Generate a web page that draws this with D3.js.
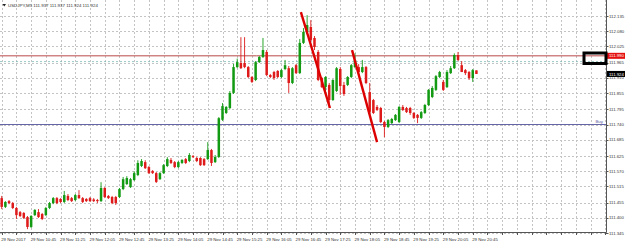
<!DOCTYPE html>
<html>
<head>
<meta charset="utf-8">
<script src="https://cdn.jsdelivr.net/npm/d3@7"></script>
<style>
  html, body { margin: 0; padding: 0; background: #fff; }
  svg { display: block; font-family: "Liberation Sans", Arial, sans-serif; }
</style>
</head>
<body>
<svg id="chart" width="625" height="244"></svg>
<script>
// USDJPY M5, 29 Nov 2017, 10:05 .. 20:50
const title = 'USDJPY,M5  111.937 111.937 111.924 111.924'

const timeLabels = [
  '29 Nov 2017', '29 Nov 10:45', '29 Nov 11:25', '29 Nov 12:05', '29 Nov 12:45',
  '29 Nov 13:25', '29 Nov 14:05', '29 Nov 14:45', '29 Nov 15:25', '29 Nov 16:05',
  '29 Nov 16:45', '29 Nov 17:25', '29 Nov 18:05', '29 Nov 18:45', '29 Nov 19:25',
  '29 Nov 20:05', '29 Nov 20:45'
]

const priceTicks = [112.135, 112.080, 112.025, 111.965, 111.910, 111.855, 111.795,
  111.740, 111.685, 111.625, 111.570, 111.515, 111.455, 111.400, 111.345]

const opens = [
  111.472, 111.440, 111.461, 111.454, 111.436, 111.421, 111.418, 111.403, 111.367, 111.410,
  111.421, 111.414, 111.410, 111.436, 111.454, 111.472, 111.469, 111.458, 111.480, 111.472,
  111.465, 111.483, 111.472, 111.469, 111.472, 111.467, 111.465, 111.461, 111.509, 111.480,
  111.476, 111.476, 111.476, 111.505, 111.523, 111.512, 111.538, 111.556, 111.589, 111.603,
  111.585, 111.571, 111.563, 111.541, 111.563, 111.589, 111.611, 111.603, 111.585, 111.600,
  111.614, 111.607, 111.625, 111.618, 111.618, 111.614, 111.614, 111.647, 111.603, 111.622,
  111.757, 111.782, 111.800, 111.855, 111.949, 111.964, 111.964, 111.949, 111.913, 111.902,
  111.967, 111.986, 112.004, 111.920, 111.931, 111.935, 111.913, 111.942, 111.945, 111.891,
  111.956, 111.927, 112.037, 112.077, 112.095, 112.055, 112.004, 111.909, 111.876, 111.884,
  111.829, 111.862, 111.942, 111.884, 111.884, 111.913, 111.949, 111.949, 111.931, 111.949,
  111.858, 111.829, 111.804, 111.800, 111.749, 111.731, 111.745, 111.756, 111.749, 111.804,
  111.800, 111.800, 111.782, 111.775, 111.764, 111.782, 111.811, 111.840, 111.866, 111.913,
  111.895, 111.876, 111.927, 111.945, 111.993, 111.956, 111.938, 111.931, 111.909, 111.937
]
const highs = [
  111.480, 111.461, 111.465, 111.458, 111.440, 111.425, 111.421, 111.407, 111.410, 111.432,
  111.432, 111.418, 111.440, 111.458, 111.476, 111.476, 111.472, 111.498, 111.487, 111.476,
  111.487, 111.501, 111.476, 111.472, 111.476, 111.472, 111.469, 111.530, 111.512, 111.483,
  111.480, 111.480, 111.509, 111.549, 111.552, 111.545, 111.570, 111.610, 111.614, 111.610,
  111.589, 111.574, 111.567, 111.567, 111.596, 111.621, 111.618, 111.607, 111.607, 111.614,
  111.618, 111.636, 111.629, 111.622, 111.621, 111.618, 111.676, 111.651, 111.629, 111.767,
  111.818, 111.807, 111.862, 111.961, 111.980, 112.058, 112.058, 111.953, 111.916, 111.971,
  111.989, 112.055, 112.011, 111.924, 111.935, 111.938, 111.942, 111.975, 111.953, 111.949,
  111.960, 112.051, 112.091, 112.138, 112.120, 112.062, 112.011, 111.913, 111.916, 111.891,
  111.905, 111.949, 111.949, 111.895, 111.916, 111.960, 111.999, 111.960, 111.975, 111.953,
  111.891, 111.833, 111.811, 111.804, 111.753, 111.760, 111.764, 111.778, 111.807, 111.811,
  111.804, 111.804, 111.785, 111.778, 111.789, 111.815, 111.869, 111.880, 111.920, 111.935,
  111.902, 111.938, 111.953, 111.999, 112.004, 111.971, 111.942, 111.935, 111.942, 111.937
]
const lows = [
  111.432, 111.436, 111.450, 111.432, 111.396, 111.403, 111.396, 111.359, 111.363, 111.407,
  111.400, 111.392, 111.407, 111.432, 111.450, 111.450, 111.454, 111.454, 111.461, 111.458,
  111.461, 111.469, 111.454, 111.458, 111.458, 111.458, 111.454, 111.458, 111.472, 111.469,
  111.450, 111.447, 111.472, 111.501, 111.520, 111.509, 111.534, 111.552, 111.585, 111.578,
  111.560, 111.560, 111.527, 111.538, 111.560, 111.585, 111.596, 111.581, 111.581, 111.596,
  111.596, 111.603, 111.618, 111.603, 111.589, 111.589, 111.611, 111.589, 111.600, 111.618,
  111.753, 111.778, 111.796, 111.851, 111.945, 111.942, 111.945, 111.909, 111.891, 111.898,
  111.964, 111.982, 111.916, 111.909, 111.902, 111.909, 111.909, 111.938, 111.855, 111.887,
  111.924, 111.924, 112.033, 112.069, 112.044, 112.011, 111.898, 111.873, 111.862, 111.800,
  111.826, 111.858, 111.848, 111.844, 111.880, 111.909, 111.945, 111.927, 111.927, 111.887,
  111.782, 111.778, 111.789, 111.745, 111.694, 111.727, 111.742, 111.753, 111.745, 111.789,
  111.782, 111.775, 111.760, 111.745, 111.760, 111.778, 111.807, 111.836, 111.862, 111.909,
  111.862, 111.873, 111.924, 111.942, 111.971, 111.931, 111.920, 111.902, 111.895, 111.924
]
const closes = [
  111.440, 111.458, 111.454, 111.436, 111.410, 111.407, 111.400, 111.367, 111.407, 111.429,
  111.403, 111.396, 111.436, 111.454, 111.472, 111.454, 111.458, 111.483, 111.465, 111.461,
  111.483, 111.472, 111.458, 111.461, 111.461, 111.461, 111.461, 111.509, 111.476, 111.472,
  111.454, 111.454, 111.505, 111.541, 111.545, 111.541, 111.563, 111.600, 111.607, 111.581,
  111.563, 111.563, 111.531, 111.563, 111.592, 111.614, 111.600, 111.585, 111.603, 111.611,
  111.600, 111.629, 111.622, 111.607, 111.592, 111.592, 111.647, 111.600, 111.622, 111.763,
  111.807, 111.804, 111.855, 111.949, 111.967, 111.945, 111.949, 111.913, 111.895, 111.967,
  111.986, 112.011, 111.920, 111.913, 111.909, 111.913, 111.938, 111.956, 111.891, 111.945,
  111.927, 112.037, 112.077, 112.102, 112.048, 112.022, 111.902, 111.876, 111.913, 111.829,
  111.902, 111.945, 111.880, 111.851, 111.913, 111.956, 111.975, 111.931, 111.949, 111.891,
  111.786, 111.782, 111.793, 111.749, 111.731, 111.756, 111.760, 111.775, 111.804, 111.793,
  111.785, 111.782, 111.764, 111.764, 111.785, 111.811, 111.866, 111.873, 111.916, 111.931,
  111.866, 111.931, 111.945, 111.993, 111.975, 111.931, 111.927, 111.909, 111.938, 111.924
]

// horizontal objects on the chart
const resistanceLevel = 111.990
const askLevel = 111.969
const buyLevel = 111.740
const bidPrice = 111.924

// trend lines: [bar index, price]
const trendA = [[81.3, 112.149], [89.2, 111.800]]
const trendB = [[95.2, 112.011], [102.0, 111.676]]

const width = 625
const height = 244
const plotRight = 606
const plotBottom = 232
const barStep = 3.68

const svg = d3.select('#chart')

const x = d3.scaleLinear()
  .domain([0, opens.length - 1])
  .range([1.7, 1.7 + (opens.length - 1) * barStep])

const y = d3.scaleLinear()
  .domain([111.345, 112.135])
  .range([233, 16])

const lastGridBar = Math.floor(x.invert(plotRight))
const gridBars = d3.range(0, lastGridBar + 1, 4)

// grid
const grid = svg.append('g').attr('stroke', '#c4c4c4').attr('stroke-dasharray', '2,2')
grid.selectAll('.vgrid').data(gridBars).enter()
  .append('line')
    .attr('x1', d => Math.round(x(d)) + 0.5)
    .attr('x2', d => Math.round(x(d)) + 0.5)
    .attr('y1', 0)
    .attr('y2', plotBottom)
grid.selectAll('.hgrid').data(priceTicks).enter()
  .append('line')
    .attr('x1', 0)
    .attr('x2', plotRight)
    .attr('y1', d => Math.round(y(d)) + 0.5)
    .attr('y2', d => Math.round(y(d)) + 0.5)

// level lines
svg.append('line')
  .attr('x1', 0).attr('x2', plotRight)
  .attr('y1', y(resistanceLevel)).attr('y2', y(resistanceLevel))
  .attr('stroke', '#b84a4a').attr('stroke-width', 1)
svg.append('line')
  .attr('x1', 0).attr('x2', plotRight)
  .attr('y1', y(askLevel)).attr('y2', y(askLevel))
  .attr('stroke', '#7fb8b8').attr('stroke-width', 0.8).attr('stroke-dasharray', '2,2')
svg.append('line')
  .attr('x1', 0).attr('x2', plotRight)
  .attr('y1', y(buyLevel)).attr('y2', y(buyLevel))
  .attr('stroke', '#6464a6').attr('stroke-width', 1)
svg.append('text')
  .attr('x', plotRight - 3).attr('y', y(buyLevel) - 1.5)
  .attr('text-anchor', 'end')
  .attr('font-size', 4.4)
  .attr('fill', '#5a5aa0')
  .text('Buy')

// candles
const bull = '#139a13'
const bear = '#de1a1a'
const bars = d3.range(opens.length).map(i => ({ i, o: opens[i], h: highs[i], l: lows[i], c: closes[i] }))

const candles = svg.append('g').selectAll('.candle').data(bars).enter()
  .append('g')

candles.append('line')
  .attr('x1', d => x(d.i))
  .attr('x2', d => x(d.i))
  .attr('y1', d => y(d.h))
  .attr('y2', d => y(d.l))
  .attr('stroke', d => d.c >= d.o ? bull : bear)
  .attr('stroke-width', 0.9)

candles.append('rect')
  .attr('x', d => x(d.i) - 1.25)
  .attr('width', 2.5)
  .attr('y', d => y(Math.max(d.o, d.c)))
  .attr('height', d => Math.max(1, y(Math.min(d.o, d.c)) - y(Math.max(d.o, d.c))))
  .attr('fill', d => d.c >= d.o ? bull : bear)

// trend lines
const trendLine = d3.line().x(d => x(d[0])).y(d => y(d[1]))
svg.selectAll('.trend').data([trendA, trendB]).enter()
  .append('path')
    .attr('d', trendLine)
    .attr('fill', 'none')
    .attr('stroke', '#dc0000')
    .attr('stroke-width', 2.4)

// frame
svg.append('line')
  .attr('x1', plotRight + 0.5).attr('x2', plotRight + 0.5)
  .attr('y1', 0).attr('y2', plotBottom + 0.5)
  .attr('stroke', '#555')
svg.append('line')
  .attr('x1', 0).attr('x2', plotRight + 0.5)
  .attr('y1', plotBottom + 0.5).attr('y2', plotBottom + 0.5)
  .attr('stroke', '#555')

// price axis
const yAxis = svg.append('g')
yAxis.selectAll('.ytick').data(priceTicks).enter()
  .append('line')
    .attr('x1', plotRight).attr('x2', plotRight + 2.5)
    .attr('y1', d => Math.round(y(d)) + 0.5)
    .attr('y2', d => Math.round(y(d)) + 0.5)
    .attr('stroke', '#555')
yAxis.selectAll('.ylabel').data(priceTicks).enter()
  .append('text')
    .attr('x', 609)
    .attr('y', d => y(d) + 1.6)
    .attr('font-size', 4.3)
    .attr('fill', '#333')
    .text(d => d.toFixed(3))

// time axis
svg.append('g').selectAll('.xtick').data(gridBars).enter()
  .append('line')
    .attr('x1', d => Math.round(x(d)) + 0.5)
    .attr('x2', d => Math.round(x(d)) + 0.5)
    .attr('y1', plotBottom)
    .attr('y2', plotBottom + 3)
    .attr('stroke', '#555')
svg.append('g').selectAll('.xlabel').data(timeLabels).enter()
  .append('text')
    .attr('x', (d, k) => x(k * 8) - 0.5)
    .attr('y', 240.5)
    .attr('font-size', 4.3)
    .attr('fill', '#333')
    .text(d => d)

// price marker labels
const markers = [
  { price: resistanceLevel, fill: '#e41010' },
  { price: bidPrice, fill: '#000' }
]
const mk = svg.append('g').selectAll('.marker').data(markers).enter().append('g')
mk.append('rect')
  .attr('x', plotRight + 1)
  .attr('y', d => y(d.price) - 3)
  .attr('width', width - plotRight - 1)
  .attr('height', 6)
  .attr('fill', d => d.fill)
mk.append('text')
  .attr('x', 609)
  .attr('y', d => y(d.price) + 1.6)
  .attr('font-size', 4.3)
  .attr('fill', '#fff')
  .text(d => d.price.toFixed(3))

// highlight box around the level marker
svg.append('rect')
  .attr('x', 584).attr('y', 53)
  .attr('width', 22).attr('height', 10.5)
  .attr('fill', 'none')
  .attr('stroke', '#000')
  .attr('stroke-width', 3)

// title
svg.append('path')
  .attr('d', 'M2.5,4 L6,4 L4.25,6.5 Z')
  .attr('fill', '#222')
svg.append('text')
  .attr('x', 8).attr('y', 7.2)
  .attr('font-size', 4.4)
  .attr('fill', '#333')
  .text(title)
</script>
</body>
</html>
